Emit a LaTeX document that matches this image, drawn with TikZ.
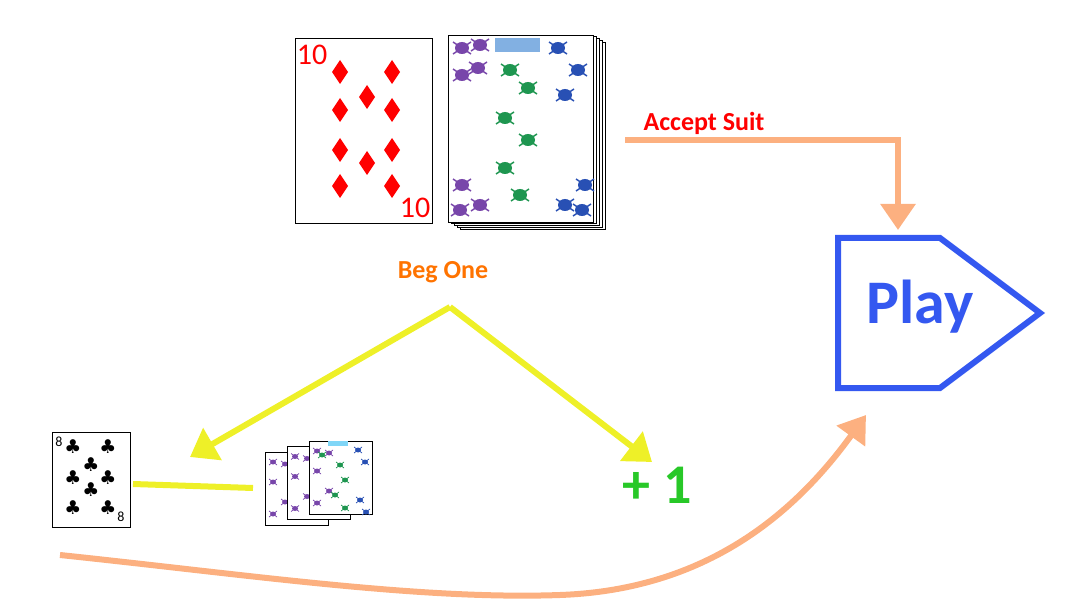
\documentclass[tikz,border=0pt]{standalone}
\usepackage{fontspec}
\setmainfont{Carlito}
\newfontfamily\symf{DejaVu Sans}
\usetikzlibrary{arrows.meta}
\definecolor{peach}{RGB}{252,176,128}
\definecolor{yel}{RGB}{238,240,40}
\definecolor{playblue}{RGB}{52,88,240}
\definecolor{pgreen}{RGB}{40,200,40}
\definecolor{bugp}{RGB}{120,70,170}
\definecolor{bugg}{RGB}{30,150,80}
\definecolor{bugb}{RGB}{40,80,180}
\tikzset{
 card/.style={draw=black,fill=white,line width=0.6pt},
 peachline/.style={draw=peach,line width=6pt},
 yelline/.style={draw=yel,line width=6pt},
 lab/.style={font=\bfseries\fontsize{26}{28}\selectfont},
}
\newcommand\diam[2]{\fill[red] (#1,#2-12) -- (#1+8,#2) -- (#1,#2+12) -- (#1-8,#2) -- cycle;}
\newcommand\bugat[3]{\fill[#3] (#1,#2) ellipse (7 and 6); \draw[#3,line width=1.5pt] (#1-9,#2-6)--(#1+9,#2+6) (#1-9,#2+6)--(#1+9,#2-6);}
\newcommand\sbug[3]{\fill[#3] (#1,#2) ellipse (3 and 2.5); \draw[#3,line width=0.7pt] (#1-4,#2-3)--(#1+4,#2+3) (#1-4,#2+3)--(#1+4,#2-3);}
\begin{document}
\begin{tikzpicture}[x=1pt,y=-1pt]
\useasboundingbox (0,0) rectangle (1065,609);
% 10 of diamonds
\node[card,minimum width=137,minimum height=185,anchor=north west,inner sep=0] (ten) at (295,38) {};
\node[text=red,font=\fontsize{30}{30}\selectfont] (t1) at (312,55) {10};
\node[text=red,font=\fontsize{30}{30}\selectfont] (t2) at (415,208) {10};
\foreach \x/\y in {340/72,340/110,340/150,340/186,392/72,392/110,392/150,392/186,367/97,367/163} {\diam{\x}{\y}}
% deck
\foreach \o in {12,9,6,3,0}{\draw[card] (448+\o,35+\o*0.6) rectangle (593+\o,222+\o*0.6);}
\node[card,minimum width=145,minimum height=187,anchor=north west,inner sep=0] (deck) at (448,35) {};
\fill[cyan!60!blue!50] (495,38) rectangle (540,52);
\foreach \x/\y in {462/48,480/45,462/75,478/68,462/185,480/205,460/210}{\bugat{\x}{\y}{bugp}}
\foreach \x/\y in {510/70,528/88,505/118,528/140,505/168,520/195}{\bugat{\x}{\y}{bugg}}
\foreach \x/\y in {558/48,578/70,565/95,585/185,565/205,582/210}{\bugat{\x}{\y}{bugb}}
% accept suit
\node[lab,text=red] (acc) at (704,123) {Accept Suit};
\coordinate (a0) at (625,140);
\coordinate (a1) at (898,140);
\draw[draw=playblue,line width=6pt,line join=miter] (838,238) -- (940,238) -- (1040,313) -- (940,388) -- (838,388) -- cycle;
\node[text=playblue,font=\bfseries\fontsize{62}{62}\selectfont] (play) at (920,307) {Play};
\draw[peachline,-{Triangle[length=26pt,width=34pt]}] (a0) -- (a1) -- (898,230);
% beg one
\node[lab,text=orange!90!red] (beg) at (443,272) {Beg One};
\coordinate (apex) at (450,307);
\draw[yelline,-{Triangle[length=26pt,width=36pt]}] (apex) -- (190,457);
\draw[yelline,-{Triangle[length=26pt,width=36pt]}] (apex) -- (652,462);
\draw[yelline] (133,484) -- (253,488);
\node[text=pgreen,font=\bfseries\fontsize{56}{56}\selectfont] (plus) at (657,485) {+ 1};
% 8 of clubs
\node[card,minimum width=78,minimum height=95,anchor=north west,inner sep=0] (eight) at (52,432) {};
\node[font=\fontsize{14}{14}\selectfont] at (59,442) {8};
\node[font=\fontsize{14}{14}\selectfont] at (121,517) {8};
\foreach \x/\y in {73/447,108/447,91/465,73/478,108/478,91/490,73/508,108/508}{\node[font=\symf\fontsize{19}{19}\selectfont,inner sep=0] at (\x,\y) {♣};}
% small deck
\foreach \o in {0,22,44}{\draw[card] (265+\o,452-\o*0.25) rectangle (328+\o,525-\o*0.25);
 \foreach \dx/\dy in {8/10,20/12,8/30,20/50,8/62}{\sbug{265+\o+\dx}{452-\o*0.25+\dy}{bugp}}}
\foreach \x/\y in {322/455,340/465,345/480,335/495,345/508}{\sbug{\x}{\y}{bugg}}
\foreach \x/\y in {358/450,365/462,360/500,366/512}{\sbug{\x}{\y}{bugb}}
\fill[cyan!50] (328,441) rectangle (348,446);
% bottom curve
\coordinate (c0) at (60,555);
\coordinate (c1) at (866,415);
\draw[peachline,-{Triangle[length=26pt,width=34pt]}] (c0) .. controls (250,575) and (420,600) .. (560,595) .. controls (700,590) and (790,520) .. (c1);
\end{tikzpicture}
\end{document}
